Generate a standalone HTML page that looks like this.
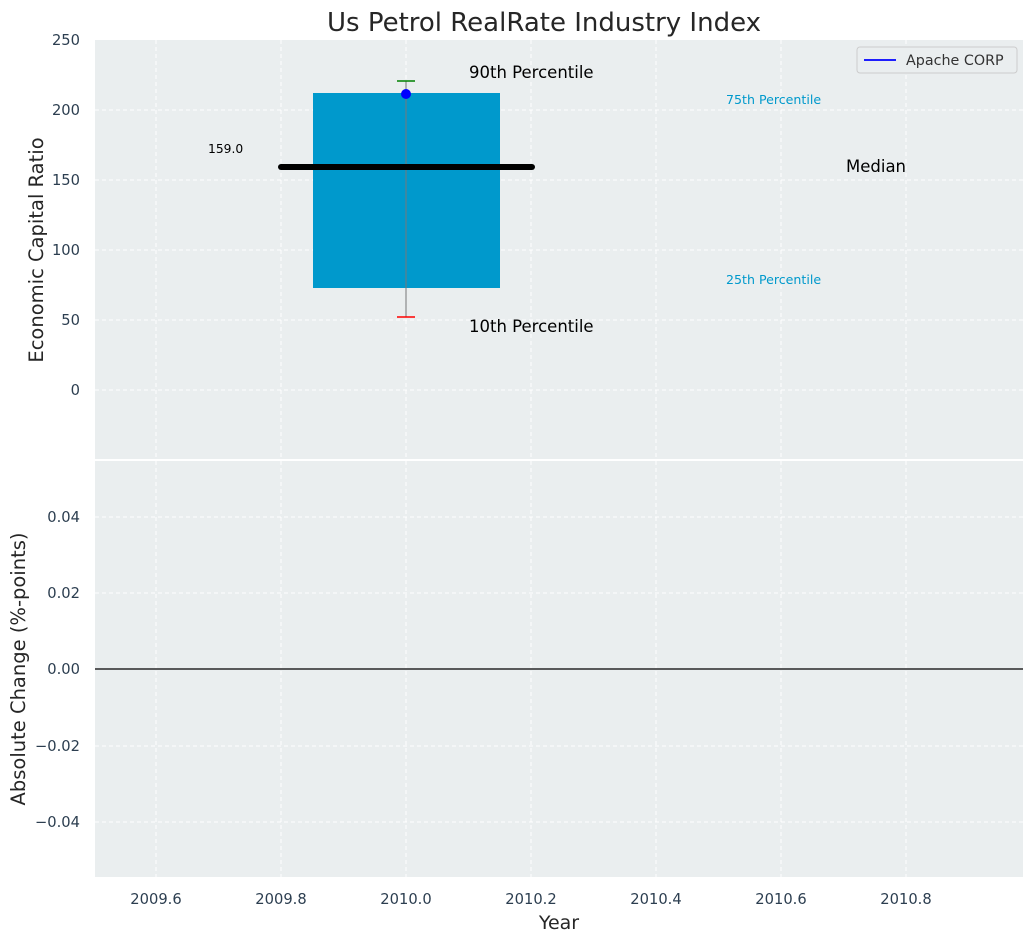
<!DOCTYPE html>
<html><head><style>body{margin:0;background:#fff}</style></head><body>
<svg width="1034" height="942" xmlns="http://www.w3.org/2000/svg" font-family="DejaVu Sans, Liberation Sans, sans-serif">
<rect width="1034" height="942" fill="#fff"/>
<rect x="95" y="40" width="928" height="419" fill="#eaeeef"/>
<rect x="95" y="461" width="928" height="416" fill="#eaeeef"/>
<g stroke="#fff" stroke-dasharray="4,3" stroke-width="1">
<line x1="156" y1="40" x2="156" y2="459"/><line x1="281" y1="40" x2="281" y2="459"/><line x1="406" y1="40" x2="406" y2="459"/><line x1="531" y1="40" x2="531" y2="459"/><line x1="656" y1="40" x2="656" y2="459"/><line x1="781" y1="40" x2="781" y2="459"/><line x1="906" y1="40" x2="906" y2="459"/>
<line x1="95" y1="110" x2="1023" y2="110"/><line x1="95" y1="180" x2="1023" y2="180"/><line x1="95" y1="250" x2="1023" y2="250"/><line x1="95" y1="320" x2="1023" y2="320"/><line x1="95" y1="390" x2="1023" y2="390"/>
<line x1="156" y1="461" x2="156" y2="877"/><line x1="281" y1="461" x2="281" y2="877"/><line x1="406" y1="461" x2="406" y2="877"/><line x1="531" y1="461" x2="531" y2="877"/><line x1="656" y1="461" x2="656" y2="877"/><line x1="781" y1="461" x2="781" y2="877"/><line x1="906" y1="461" x2="906" y2="877"/>
<line x1="95" y1="517" x2="1023" y2="517"/><line x1="95" y1="593" x2="1023" y2="593"/><line x1="95" y1="746" x2="1023" y2="746"/><line x1="95" y1="822" x2="1023" y2="822"/>
</g>
<line x1="95" y1="669" x2="1023" y2="669" stroke="#000" stroke-width="1.2"/>
<rect x="313" y="93" width="187" height="195" fill="#0099cc"/>
<line x1="406" y1="81" x2="406" y2="317" stroke="#777" stroke-width="1"/>
<line x1="397" y1="81" x2="415" y2="81" stroke="green" stroke-width="1.5"/>
<line x1="397" y1="317" x2="415" y2="317" stroke="red" stroke-width="1.5"/>
<line x1="281" y1="167" x2="532" y2="167" stroke="#000" stroke-width="6" stroke-linecap="round"/>
<circle cx="406" cy="94" r="5" fill="blue"/>
<text x="469" y="78" font-size="16.5">90th Percentile</text>
<text x="469" y="332" font-size="16.5">10th Percentile</text>
<text x="726" y="104" font-size="12.6" fill="#0099cc">75th Percentile</text>
<text x="726" y="284" font-size="12.6" fill="#0099cc">25th Percentile</text>
<text x="846" y="172" font-size="16.5">Median</text>
<text x="208" y="153" font-size="12.3">159.0</text>
<rect x="857" y="47" width="160" height="26" fill="#eaeeef" stroke="#ccc" rx="3"/>
<line x1="864" y1="60" x2="896" y2="60" stroke="blue" stroke-width="1.8"/>
<text x="906" y="65" font-size="14.3" fill="#333">Apache CORP</text>
<text x="544" y="31" font-size="26" text-anchor="middle" fill="#262626">Us Petrol RealRate Industry Index</text>
<g font-size="14.7" fill="#2c3e50" text-anchor="end">
<text x="80" y="45">250</text><text x="80" y="115">200</text><text x="80" y="185">150</text><text x="80" y="255">100</text><text x="80" y="325">50</text><text x="80" y="395">0</text>
<text x="80" y="522">0.04</text><text x="80" y="598">0.02</text><text x="80" y="674">0.00</text><text x="80" y="751">−0.02</text><text x="80" y="827">−0.04</text>
</g>
<g font-size="14.7" fill="#2c3e50" text-anchor="middle">
<text x="156" y="904">2009.6</text><text x="281" y="904">2009.8</text><text x="406" y="904">2010.0</text><text x="531" y="904">2010.2</text><text x="656" y="904">2010.4</text><text x="781" y="904">2010.6</text><text x="906" y="904">2010.8</text>
</g>
<text x="559" y="929" font-size="19" text-anchor="middle" fill="#262626">Year</text>
<text transform="translate(43,250) rotate(-90)" font-size="19.5" text-anchor="middle" fill="#262626">Economic Capital Ratio</text>
<text transform="translate(25,669) rotate(-90)" font-size="19.5" text-anchor="middle" fill="#262626">Absolute Change (%-points)</text>
</svg>
</body></html>
